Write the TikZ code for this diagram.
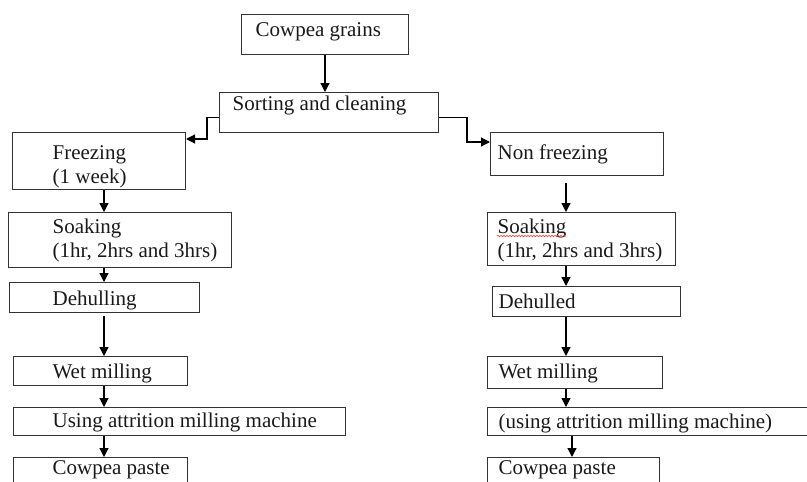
\documentclass[tikz,border=0pt]{standalone}
\usepackage{fontspec}
\setmainfont{Liberation Serif}
\usetikzlibrary{arrows.meta, decorations.pathmorphing}

\begin{document}
\begin{tikzpicture}[x = 1pt, y = -1pt, % pixel grid, y downwards
                > = {Triangle[length=9pt, width=9pt]}, % arrow head style
                line width = 1.2pt % line style
            ]

            \tikzstyle{box}=[draw = black!80, rectangle, line width = 1pt,
            inner sep = 0pt, anchor = north west]
            \tikzstyle{txt}=[inner sep = 0pt, anchor = west, align = left,
            text = black!90, font = \fontsize{21}{24}\selectfont]

            \path[use as bounding box, clip] (0,0) rectangle (807,482);

            % boxes
            \node[box, minimum width = 167pt, minimum height = 40pt] (grains) at (241,14) {};
            \node[box, minimum width = 219pt, minimum height = 40pt] (sort) at (219,92) {};
            \node[box, minimum width = 173pt, minimum height = 57pt] (frz) at (12,132) {};
            \node[box, minimum width = 173pt, minimum height = 43pt] (nfrz) at (490,132) {};
            \node[box, minimum width = 223pt, minimum height = 55pt] (soakL) at (8,212) {};
            \node[box, minimum width = 188pt, minimum height = 53pt] (soakR) at (487,212) {};
            \node[box, minimum width = 190pt, minimum height = 30pt] (dehL) at (9,282) {};
            \node[box, minimum width = 188pt, minimum height = 30pt] (dehR) at (492,286) {};
            \node[box, minimum width = 174pt, minimum height = 29pt] (wetL) at (13,356) {};
            \node[box, minimum width = 175pt, minimum height = 32pt] (wetR) at (487,356) {};
            \node[box, minimum width = 332pt, minimum height = 28pt] (useL) at (13,407) {};
            \node[box, minimum width = 340pt, minimum height = 28pt] (useR) at (487,407) {};
            \node[box, minimum width = 174pt, minimum height = 40pt] (pasteL) at (13,457) {};
            \node[box, minimum width = 172pt, minimum height = 40pt] (pasteR) at (487,457) {};

            % texts
            \node[txt] (grains-t) at (255,32) {Cowpea grains};
            \node[txt] (sort-t) at (232,105) {Sorting and cleaning};
            \node[txt] (frz-t) at (52,167) {Freezing\\(1 week)};
            \node[txt] (nfrz-t) at (497,154) {Non freezing};
            \node[txt] (soakL-t) at (52,240) {Soaking\\(1hr, 2hrs and 3hrs)};
            \node[txt] (soakR-t) at (497,240) {Soaking\\(1hr, 2hrs and 3hrs)};
            \node[txt] (dehL-t) at (52,300) {Dehulling};
            \node[txt] (dehR-t) at (498,301) {Dehulled};
            \node[txt] (wetL-t) at (52,373) {Wet milling};
            \node[txt] (wetR-t) at (498,373) {Wet milling};
            \node[txt] (useL-t) at (52,422) {Using attrition milling machine};
            \node[txt] (useR-t) at (498,423) {(using attrition milling machine)};
            \node[txt] (pasteL-t) at (52,470) {Cowpea paste};
            \node[txt] (pasteR-t) at (498,470) {Cowpea paste};

            % spell-check mark under the right "Soaking"
            \coordinate (wave-a) at (497,236);
            \coordinate (wave-b) at (566,236);
            \draw[red!80, line width = 0.5pt, decorate,
            decoration = {snake, amplitude = 0.8pt, segment length = 3pt}]
            (wave-a) -- (wave-b);

            \coordinate (lx) at (104,0);
            \coordinate (rx) at (566,0);
            \coordinate (rx2) at (572,0);

            % connectors
            \draw[->] (grains.south) -- (grains.south |- sort.north);
            \draw[->] ([yshift=-5pt]sort.west) -- ++(-12pt,0) |- ([yshift=-7pt]frz.north east);
            \draw[->] ([yshift=-5pt]sort.east) -- ++(28pt,0) |- ([yshift=-10pt]nfrz.north west);

            \draw[->] (frz.south -| lx) -- (soakL.north -| lx);
            \draw[->] (soakL.south -| lx) -- (dehL.north -| lx);
            \draw[->] ([yshift=-3pt]dehL.south -| lx) -- (wetL.north -| lx);
            \draw[->] (wetL.south -| lx) -- (useL.north -| lx);
            \draw[->] (useL.south -| lx) -- (pasteL.north -| lx);

            \draw[->] ([yshift=-7pt]nfrz.south -| rx) -- (soakR.north -| rx);
            \draw[->] (soakR.south -| rx) -- (dehR.north -| rx);
            \draw[->] (dehR.south -| rx) -- (wetR.north -| rx);
            \draw[->] (wetR.south -| rx) -- (useR.north -| rx);
            \draw[->] (useR.south -| rx2) -- (pasteR.north -| rx2);
\end{tikzpicture}
\end{document}
